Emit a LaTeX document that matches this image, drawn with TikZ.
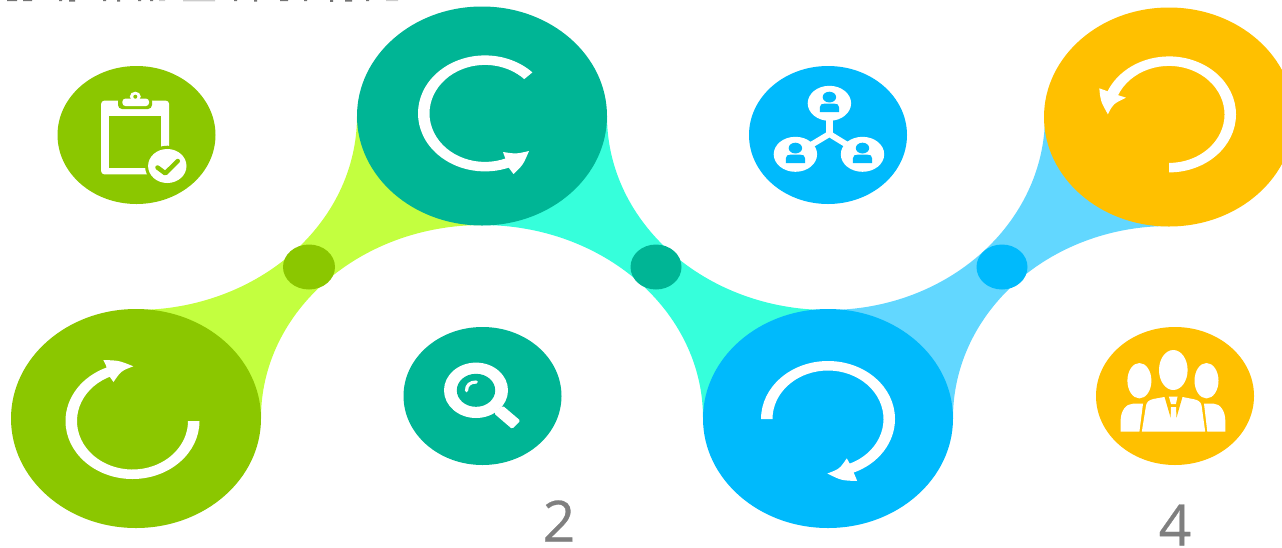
\documentclass[tikz,border=0pt]{standalone}
\usepackage{fontspec}
\setmainfont{Open Sans}
\newfontfamily\digitfont[FakeBold=0.5]{Open Sans}
\definecolor{cgreen}{HTML}{8BC700}
\definecolor{cgreenL}{HTML}{C3FF3F}
\definecolor{cteal}{HTML}{00B595}
\definecolor{ctealL}{HTML}{36FFDB}
\definecolor{cblue}{HTML}{00BAFC}
\definecolor{cblueL}{HTML}{62D7FF}
\definecolor{cyel}{HTML}{FFC000}
\definecolor{cgray}{HTML}{7F7F7F}
\tikzset{
  digitlabel/.style={text=cgray,font=\digitfont\fontsize{57}{57}\selectfont,inner sep=0pt,anchor=base},
}
% ring sector: cx, cy, start angle, end angle
\newcommand{\ringarc}[4]{%
  \fill[white] ({#1+67*cos(#3)},{#2+58*sin(#3)})
    arc[start angle=#3,end angle=#4,x radius=67,y radius=58]
    -- ({#1+55.5*cos(#4)},{#2+48.5*sin(#4)})
    arc[start angle=#4,end angle=#3,x radius=55.5,y radius=48.5] -- cycle;}
% person badge: x, y, background colour
\newcommand{\personbadge}[3]{%
  \fill[white] (#1,#2) ellipse[x radius=21.7,y radius=17.5];
  \fill[#3] (#1,#2-6.2) ellipse[x radius=6.7,y radius=5.4];
  \fill[#3] (#1-9.6,#2+8.7) -- (#1-9.6,#2+4) .. controls (#1-9.6,#2+1) and (#1-7.5,#2+0.4) .. (#1-5,#2+0.4)
    -- (#1+5,#2+0.4) .. controls (#1+7.5,#2+0.4) and (#1+9.6,#2+1) .. (#1+9.6,#2+4) -- (#1+9.6,#2+8.7) -- cycle;}
\begin{document}
\begin{tikzpicture}[x=1pt,y=-1pt]
\useasboundingbox (0,0) rectangle (1282,547);
\clip (0,0) rectangle (1282,547);

% clipped line of text at the top edge
\fill[black!55] (7,0) rectangle (17,1.2) (23,0) rectangle (32,1.2) (59,0) rectangle (62,1.2)
  (69,0) rectangle (75,1.6) (103,0) rectangle (106,1) (117,0) rectangle (120,1.6)
  (138,0) rectangle (141,1) (150,0) rectangle (153,1.2) (234,0) rectangle (237,1.2)
  (254,0) rectangle (257,1.6) (280,0) rectangle (288,1) (304,0) rectangle (307,1)
  (330,0) rectangle (333,1.8) (345,0) rectangle (352,1.6) (366,0) rectangle (369,1);
\fill[black!20] (159,0) rectangle (165,1.2) (183,0) rectangle (215,1.4) (386,0) rectangle (398,1.2);

% bands
\fill[cgreenL] (136,310) arc[start angle=90,end angle=0,x radius=221,y radius=194]
  -- (482,225) arc[start angle=270,end angle=180,x radius=221,y radius=193] -- cycle;
\fill[ctealL] (607,116) arc[start angle=180,end angle=90,x radius=221,y radius=194]
  -- (703,418) arc[start angle=0,end angle=-90,x radius=221,y radius=193] -- cycle;
\fill[cblueL] (828,310) arc[start angle=90,end angle=0,x radius=217,y radius=194]
  -- (1169,226) arc[start angle=270,end angle=180,x radius=216,y radius=192] -- cycle;

% large discs
\fill[cgreen] (136,418.5) ellipse[x radius=125,y radius=109.5];
\fill[cteal] (482,116) ellipse[x radius=125,y radius=109.5];
\fill[cblue] (828,418.5) ellipse[x radius=125,y radius=109.5];
\fill[cyel] (1169,117) ellipse[x radius=125,y radius=109.5];

% joint dots
\fill[cgreen] (309,267) ellipse[x radius=26,y radius=22.5];
\fill[cteal] (656,267) ellipse[x radius=25.5,y radius=22.5];
\fill[cblue] (1002,267) ellipse[x radius=25.5,y radius=22.5];

% small discs
\fill[cgreen] (136.5,135) ellipse[x radius=79,y radius=69];
\fill[cteal] (482.5,396) ellipse[x radius=79,y radius=69];
\fill[cblue] (828,135) ellipse[x radius=79,y radius=69];
\fill[cyel] (1175,396) ellipse[x radius=79,y radius=69];

% refresh arrows
\ringarc{132.5}{421}{0}{248}
\fill[white] (103.3,360) .. controls (119,360.5) .. (133.3,366.3) .. controls (121,371) .. (113.5,382)
  -- (108.5,375) -- (106,365.5) -- cycle;
\ringarc{828}{419}{180}{428}
\fill[white] (857.2,481) .. controls (841.5,480.5) .. (827.3,473.5) .. controls (839.5,469) .. (846.8,458.3)
  -- (851,466) -- (854.5,474.5) -- cycle;
\ringarc{485}{113.4}{315}{67}
\fill[white] (503,152) .. controls (516,154) .. (529,151) .. controls (523,165) .. (513.5,174)
  -- (508,166.7) -- (505.5,159) -- cycle;
\ringarc{1169}{114.4}{90}{-157}
\fill[white] (1099.3,88.3) .. controls (1100.5,101) .. (1107.9,114.3) .. controls (1113,104) .. (1125.9,97.7)
  -- (1117.7,95) -- (1108.3,91.5) -- cycle;

% clipboard icon
\fill[white,rounded corners=3pt] (101.2,100.7) rectangle (169,174.3);
\fill[cgreen] (109,115.7) rectangle (161,167.7);
\fill[cgreen] (167.3,166) ellipse[x radius=22.3,y radius=20.3];
\fill[white] (167.3,166) ellipse[x radius=19.2,y radius=17];
\draw[cgreen,line width=4.5pt,line cap=round,line join=round] (157.5,167.5) -- (165.3,173.3) -- (177.8,161);
\fill[cgreen,rounded corners=4pt] (118,97) rectangle (152,109);
\fill[white,rounded corners=3pt] (122.4,98.6) rectangle (149,106);
\fill[white] (135.3,96.5) ellipse[x radius=5.5,y radius=4.8];
\fill[cgreen] (135.3,96.7) circle[radius=2];

% network icon
\draw[white,line width=7pt] (829.4,103.3) -- (829.4,136);
\draw[white,line width=6pt,line join=miter] (795.4,154.3) -- (829.4,134) -- (862.5,154.3);
\personbadge{829.4}{103.3}{cblue}
\personbadge{795.4}{154.3}{cblue}
\personbadge{862.5}{154.3}{cblue}

% magnifier icon
\fill[white,rounded corners=1.5pt] (502.8,405.7) -- (520.4,420.7) -- (512.2,429) -- (493.9,413.3) -- cycle;
\fill[white] (476,390.3) ellipse[x radius=32,y radius=27.7];
\fill[cteal] (476,390.3) ellipse[x radius=19.2,y radius=16.5];
\draw[white,line width=3.2pt,line cap=round] (466.5,390.7) .. controls (466.5,385) and (470,382) .. (476.3,382);

% team icon
\fill[white] (1173.3,370) ellipse[x radius=14.3,y radius=20];
\fill[white] (1139.4,380.7) ellipse[x radius=12,y radius=17.7];
\fill[white] (1206.5,380.7) ellipse[x radius=12,y radius=17.7];
\fill[white] (1141.8,431.7) -- (1146,405.7) .. controls (1146.5,402) and (1149,400) .. (1153.3,399)
  -- (1164.3,397) -- (1182.7,397) -- (1194.2,399.3) .. controls (1198,400) and (1201,402) .. (1201.6,405.7)
  -- (1205.2,431.7) -- cycle;
\fill[cyel] (1164.3,396) -- (1182.7,396) -- (1176.6,417.3) -- (1170.5,417.3) -- cycle;
\fill[white] (1168.9,396.7) -- (1177.5,396.7) -- (1175.9,404) -- (1171,404) -- cycle;
\fill[white] (1171,407) -- (1176,407) -- (1176.6,421) -- (1170.5,421) -- cycle;
\fill[white] (1143,403.7) -- (1139.4,431.7) -- (1120.6,431.7) -- (1120.6,420.7) .. controls (1120.6,411) and (1126,403.7) .. (1132.9,403.7) -- cycle;
\fill[white] (1204,403.7) -- (1207.3,431.7) -- (1225.3,431.7) -- (1225.3,420.7) .. controls (1225.3,411) and (1220,403.7) .. (1213.8,403.7) -- cycle;

% labels
\node[digitlabel] (two) at (559,541.7) {2};
\node[digitlabel] (four) at (1175,545.5) {4};
\end{tikzpicture}
\end{document}
